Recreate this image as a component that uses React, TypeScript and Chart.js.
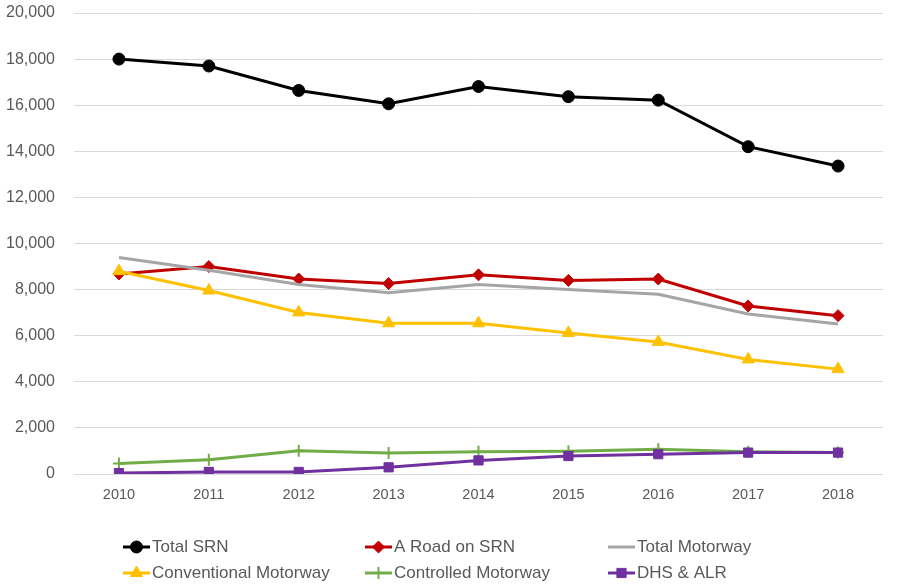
import React, { useEffect, useRef } from "react";
import { Chart, registerables } from "chart.js";
import { drawPoint } from "chart.js/helpers";

Chart.register(...registerables);

const years = ["2010", "2011", "2012", "2013", "2014", "2015", "2016", "2017", "2018"];
const totalSRN = [18000, 17700, 16640, 16060, 16810, 16370, 16220, 14200, 13360];
const aRoadSRN = [8680, 9000, 8460, 8260, 8640, 8400, 8460, 7290, 6870];
const totalMotorway = [9390, 8840, 8220, 7860, 8220, 8000, 7800, 6940, 6510];
const conventionalMotorway = [8800, 7960, 7010, 6540, 6540, 6120, 5730, 4970, 4550];
const controlledMotorway = [460, 620, 1010, 910, 960, 990, 1070, 970, 930];
const dhsAlr = [40, 90, 90, 290, 590, 780, 860, 930, 930];

const legendCols = [123, 365, 608];
const legendRows = [547, 573];

const fontFamily = "'Liberation Sans', Arial, sans-serif";

const legendPlugin = {
  id: "gridLegend",
  afterDraw(chart: any) {
    const ctx = chart.ctx;
    ctx.save();
    chart.data.datasets.forEach((ds: any, i: number) => {
      const col = i % 3;
      const row = Math.floor(i / 3);
      const x = legendCols[col];
      const y = legendRows[row];
      ctx.strokeStyle = ds.borderColor;
      ctx.lineWidth = 3;
      ctx.beginPath();
      ctx.moveTo(x, y);
      ctx.lineTo(x + 27, y);
      ctx.stroke();
      if (ds.pointRadius > 0) {
        ctx.fillStyle = ds.pointBackgroundColor;
        ctx.strokeStyle = ds.pointBorderColor;
        ctx.lineWidth = ds.pointBorderWidth;
        drawPoint(ctx, { pointStyle: ds.pointStyle, radius: ds.pointRadius, borderWidth: ds.pointBorderWidth, rotation: 0 } as any, x + 13.5, y);
      }
      ctx.fillStyle = "#595959";
      ctx.font = `17px ${fontFamily}`;
      ctx.textBaseline = "middle";
      ctx.textAlign = "left";
      ctx.fillText(ds.label, x + 29, y);
    });
    ctx.restore();
  },
};

function mk(label: string, data: number[], color: string, style: any, radius: number, order: number, bw = 1) {
  return {
    label,
    data,
    order,
    borderColor: color,
    backgroundColor: color,
    borderWidth: 3,
    pointStyle: style,
    pointRadius: radius,
    pointHoverRadius: radius,
    pointBackgroundColor: color,
    pointBorderColor: color,
    pointBorderWidth: bw,
    tension: 0,
  };
}

export default function App() {
  const ref = useRef<HTMLCanvasElement>(null);
  useEffect(() => {
    document.body.style.margin = "0";
    const chart = new Chart(ref.current!, {
      type: "line",
      data: {
        labels: years,
        datasets: [
          mk("Total SRN", totalSRN, "#000000", "circle", 6, 6),
          mk("A Road on SRN", aRoadSRN, "#C00000", "rectRot", 6, 5),
          mk("Total Motorway", totalMotorway, "#A5A5A5", "circle", 0, 4),
          mk("Conventional Motorway", conventionalMotorway, "#FFC000", "triangle", 7, 3),
          mk("Controlled Motorway", controlledMotorway, "#70AD47", "cross", 6, 2, 2),
          mk("DHS & ALR", dhsAlr, "#7030A0", "rect", 6.5, 1),
        ],
      },
      options: {
        animation: false,
        responsive: false,
        devicePixelRatio: 1,
        layout: { padding: { top: 13, right: 17, left: 0, bottom: 0 } },
        plugins: {
          legend: { display: false },
          tooltip: { enabled: false },
        },
        scales: {
          x: {
            offset: true,
            grid: { display: false },
            border: { display: false },
            ticks: { color: "#595959", font: { family: fontFamily, size: 14.5 }, padding: 4 },
            afterFit: (s: any) => { s.height = 112; s.paddingLeft = 0; s.paddingRight = 0; },
          },
          y: {
            min: 0,
            max: 20000,
            border: { display: false },
            grid: { color: "#D9D9D9", lineWidth: 1, drawTicks: false },
            ticks: {
              stepSize: 2000,
              color: "#595959",
              font: { family: fontFamily, size: 16 },
              padding: 19,
              callback: (v: any) => Number(v).toLocaleString("en-US"),
            },
            afterFit: (s: any) => { s.width = 74; s.paddingTop = 0; s.paddingBottom = 0; },
          },
        },
      },
      plugins: [legendPlugin],
    });
    return () => chart.destroy();
  }, []);
  return (
    <div style={{ position: "absolute", left: 0, top: 0, width: 900, height: 586 }}>
      <canvas ref={ref} width={900} height={586} />
    </div>
  );
}
